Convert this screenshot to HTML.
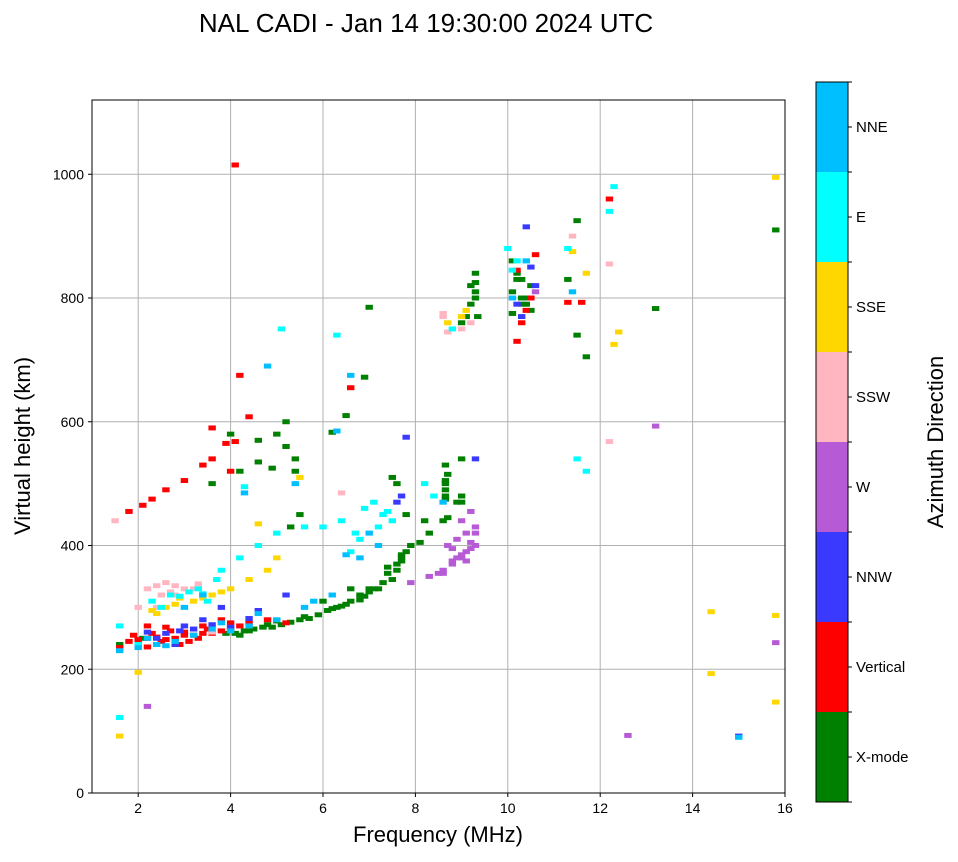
<!DOCTYPE html>
<html><head><meta charset="utf-8"><style>
body{margin:0;background:#fff;width:958px;height:857px;overflow:hidden;font-family:"Liberation Sans","DejaVu Sans",sans-serif}
</style></head><body>
<svg id="chart" width="958" height="857" xmlns="http://www.w3.org/2000/svg" font-family="Liberation Sans, DejaVu Sans, sans-serif">
<text x="426" y="32" font-size="26" text-anchor="middle">NAL CADI - Jan 14 19:30:00 2024 UTC</text>
<g id="grid"></g>
<g id="marks"></g>
<rect x="92" y="100" width="693" height="693" fill="none" stroke="#000" stroke-width="1"/>
<g id="ticks"></g>
<text x="438" y="842" font-size="22" text-anchor="middle">Frequency (MHz)</text>
<text transform="translate(30,446) rotate(-90)" font-size="22" text-anchor="middle">Virtual height (km)</text>
<g id="cbar"></g>
<text transform="translate(943,442) rotate(-90)" font-size="22" text-anchor="middle">Azimuth Direction</text>
</svg>
<script>
const xTicks=[2,4,6,8,10,12,14,16];
const yTicks=[0,200,400,600,800,1000];
const dirNames=["X-mode","Vertical","NNW","W","SSW","SSE","E","NNE"];
const dirColors=["#008000","#ff0000","#3a3aff","#b65ad6","#ffb6c1","#ffd700","#00ffff","#00bfff"];
const xmodeF=[1.6,2.1,3.9,4.1,4.3,4.5,4.7,4.9,5.1,5.3,5.5,5.7,5.9,6.1,6.3,6.5,6.6,6.8,6.9,7.0,7.1,7.2,7.3,7.5,7.6,7.7,7.8,7.9,8.1,8.3,8.6,8.65,8.65,8.65,8.65,9.0,9.0,8.9,8.7,9.2,9.3,9.3,9.35,9.0,9.1,9.2,10.1,10.2,10.3,10.4,10.5,10.1,10.3,10.5,11.3,11.5,11.5,11.7,13.2,15.8,5.0,5.2,5.4,5.5,6.2,6.5,6.9,7.0,5.3,4.0,4.6,3.6,4.2,7.5,7.6,7.8,6.0,6.6,7.4,7.7,8.2,9.0,4.2,4.4,4.8,5.0,5.6,6.2,6.4,6.8,7.0,7.4,7.6,7.7,8.65,8.65,8.7,9.3,9.3,10.2,10.4,10.1,10.3,4.9,5.2,5.4,4.6];
const xmodeH=[240,250,258,258,262,265,268,268,272,276,280,282,288,295,300,305,310,312,318,325,330,330,340,345,360,375,390,400,405,420,440,475,490,505,530,540,470,470,445,820,840,800,770,760,770,790,810,830,800,790,820,860,830,780,830,740,925,705,783,910,580,600,540,450,583,610,672,785,430,580,570,500,520,510,500,450,310,330,365,385,440,480,255,262,272,278,285,298,302,320,330,355,370,380,480,500,515,810,825,840,800,775,790,525,560,520,535];
const verticalF=[1.6,1.8,2.0,2.2,2.4,2.6,2.8,3.0,3.2,3.4,3.6,3.8,4.0,4.2,2.2,2.6,3.0,3.4,3.8,4.4,4.8,5.2,1.8,2.1,2.3,2.6,3.0,3.4,3.6,3.9,4.0,4.1,4.2,4.4,3.6,6.6,10.2,10.3,10.5,10.6,11.3,11.6,12.2,4.1,2.5,2.9,3.3,2.0,2.3,2.7,3.1,3.5,1.9,2.2,4.0,10.4,10.2];
const verticalH=[235,245,248,250,252,248,250,255,255,258,258,262,265,270,270,268,260,270,280,275,280,275,455,465,475,490,505,530,540,565,520,568,675,608,590,655,730,760,800,870,793,793,960,1015,245,240,250,240,258,262,245,265,255,236,275,780,845];
const nnwF=[2.2,2.6,3.0,3.4,2.8,3.2,4.6,5.2,7.6,7.7,7.8,9.3,10.3,10.4,10.6,15.0,4.4,3.8,2.4,2.9,3.6,4.0,10.2,10.5];
const nnwH=[260,258,270,280,240,265,295,320,470,480,575,540,770,915,820,92,282,300,250,262,272,268,790,850];
const wF=[8.3,8.5,8.6,8.8,8.9,9.0,9.1,9.2,9.3,8.7,8.9,9.1,9.3,9.0,9.2,13.2,12.6,15.8,2.2,7.9,10.6,8.8,9.1,8.6,8.8,9.0,9.2,9.3];
const wH=[350,355,360,375,380,385,390,395,400,400,410,420,430,440,455,593,93,243,140,340,810,395,375,355,370,380,405,420];
const sswF=[2.2,2.4,2.6,2.8,3.0,2.4,2.8,3.2,6.4,8.6,8.7,9.0,12.2,12.2,2.0,3.6,9.2,11.4,2.5,2.7,3.3,1.5,8.6];
const sswH=[330,335,340,335,330,300,320,330,485,770,745,750,568,855,300,260,760,900,320,325,338,440,775];
const sseF=[1.6,2.4,2.6,2.8,3.2,3.6,4.0,4.6,5.0,5.5,4.8,2.0,8.7,9.0,9.1,12.4,12.3,14.4,14.4,15.8,15.8,15.8,11.7,11.4,2.3,2.9,3.4,3.8,4.4];
const sseH=[92,290,300,305,310,320,330,435,380,510,360,195,760,770,780,745,725,293,193,287,147,995,840,875,295,315,315,325,345];
const eF=[1.6,2.0,2.3,2.7,3.1,3.3,3.5,3.8,4.2,4.6,5.0,5.6,6.0,6.4,6.7,6.9,7.1,7.3,7.5,8.2,8.4,10.0,10.2,12.2,12.3,11.5,11.7,5.1,6.3,4.3,1.6,8.8,2.5,2.9,3.4,3.7,6.6,6.8,7.2,7.4,10.1,10.4,11.3];
const eH=[270,240,310,320,325,330,310,360,380,400,420,430,430,440,420,460,470,450,440,500,480,880,860,940,980,540,520,750,740,495,122,750,300,318,322,345,390,410,430,455,845,860,880];
const nneF=[1.6,2.0,2.4,2.8,3.2,3.6,4.0,4.4,5.0,5.6,6.2,6.8,7.2,4.8,5.4,6.3,6.6,8.6,10.1,10.4,11.4,15.0,3.0,3.4,4.3,2.2,2.6,3.8,4.6,5.8,6.5,7.0];
const nneH=[230,235,240,245,255,265,262,270,280,300,320,380,400,690,500,585,675,470,800,860,810,90,300,320,485,250,238,275,290,310,385,420];

const X0=92,X1=785,Y0=793,Y1=100,xmin=1,xmax=16,ymin=0,ymax=1120;
const xs=v=>X0+(v-xmin)/(xmax-xmin)*(X1-X0);
const ys=v=>Y0-(v-ymin)/(ymax-ymin)*(Y0-Y1);
const NS="http://www.w3.org/2000/svg";
function mk(tag,parent,attrs){const e=document.createElementNS(NS,tag);for(const k in attrs)e.setAttribute(k,attrs[k]);parent.appendChild(e);return e;}
const grid=document.getElementById('grid'),ticks=document.getElementById('ticks'),marks=document.getElementById('marks'),cbar=document.getElementById('cbar');
xTicks.forEach(t=>{
  const l=mk('line',grid,{x1:xs(t),x2:xs(t),y1:Y1,y2:Y0,stroke:'#b0b0b0','stroke-width':1});
  
  
  mk('line',ticks,{x1:xs(t),x2:xs(t),y1:Y0,y2:Y0+4,stroke:'#000'});
  const tx=mk('text',ticks,{x:xs(t),y:Y0+20,'font-size':14,'text-anchor':'middle'});tx.textContent=t;
  
  
});
yTicks.forEach(t=>{
  const l=mk('line',grid,{x1:X0,x2:X1,y1:ys(t),y2:ys(t),stroke:'#b0b0b0','stroke-width':1});
  
  
  mk('line',ticks,{x1:X0-4,x2:X0,y1:ys(t),y2:ys(t),stroke:'#000'});
  const tx=mk('text',ticks,{x:X0-8,y:ys(t)+5,'font-size':14,'text-anchor':'end'});tx.textContent=t;
  
  
});
const series=[[xmodeF,xmodeH],[verticalF,verticalH],[nnwF,nnwH],[wF,wH],[sswF,sswH],[sseF,sseH],[eF,eH],[nneF,nneH]];
series.forEach((s,ci)=>{
  s[0].forEach((f,i)=>{
    const h=s[1][i];
    const r=mk('rect',marks,{x:xs(f-0.08),y:ys(h+4),width:xs(f+0.08)-xs(f-0.08),height:ys(h-4)-ys(h+4),fill:dirColors[ci]});
    
    
  });
});
const CB0=82,CBH=90,CX=816,CW=32;
dirNames.forEach((n,i)=>{
  const y=CB0+(7-i)*CBH;
  const r=mk('rect',cbar,{x:CX,y:y,width:CW,height:CBH,fill:dirColors[i]});
  
  
  mk('line',cbar,{x1:CX+CW,x2:CX+CW+4,y1:y+CBH/2,y2:y+CBH/2,stroke:'#000'});
  const t=mk('text',cbar,{x:CX+CW+8,y:y+CBH/2+5,'font-size':15});t.textContent=n;
  
  
});
for(let i=0;i<=8;i++){mk('line',cbar,{x1:CX+CW,x2:CX+CW+4,y1:CB0+i*CBH,y2:CB0+i*CBH,stroke:'#000'});}
mk('rect',cbar,{x:CX,y:CB0,width:CW,height:CBH*8,fill:'none',stroke:'#000'});
</script>
</body></html>
